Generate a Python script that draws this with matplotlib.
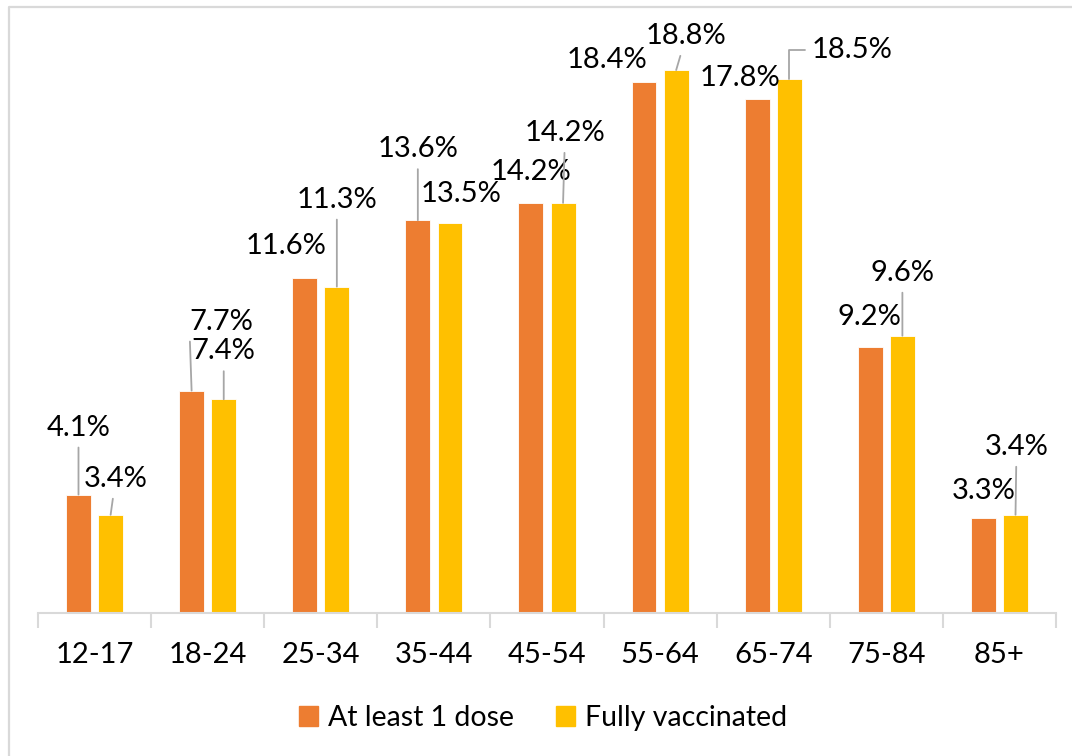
import matplotlib.pyplot as plt
import numpy as np
from matplotlib.lines import Line2D
from matplotlib.patches import Patch

plt.rcParams['font.family'] = ['Lato', 'DejaVu Sans']

age_groups = ['12-17', '18-24', '25-34', '35-44', '45-54', '55-64', '65-74', '75-84', '85+']
at_least_one = [4.1, 7.7, 11.6, 13.6, 14.2, 18.4, 17.8, 9.2, 3.3]
fully_vacc = [3.4, 7.4, 11.3, 13.5, 14.2, 18.8, 18.5, 9.6, 3.4]

orange = '#ED7D31'
yellow = '#FFC000'
grid_grey = '#d9d9d9'
leader_grey = '#a6a6a6'

# label placement (pixels from bar top): dx, dy, leader style
orange_lbl = [(0, 67, 'line'), (30, 69, 'corner'), (-19, 32, None), (0, 71, 'line'),
              (0, 31, None), (-37, 22, None), (-17, 21, None), (-1, 30, None), (0, 27, None)]
yellow_lbl = [(5, 36, 'line'), (0, 48, 'line'), (0, 87, 'line'), (11, 29, None),
              (2, 70, 'line'), (10, 34, 'line'), (63, 29, 'elbow'), (0, 63, 'line'), (1, 68, 'line')]

fig = plt.figure(figsize=(10.72, 7.56), dpi=100)
ax = fig.add_axes([38 / 1072, 1 - 613 / 756, 1018 / 1072, 577.6 / 756])

x = np.arange(len(age_groups))
width = 0.22
off = 0.142
b1 = ax.bar(x - off, at_least_one, width, color=orange, edgecolor='white', linewidth=0.6)
b2 = ax.bar(x + off, fully_vacc, width, color=yellow, edgecolor='white', linewidth=0.6)

ax.set_xlim(-0.5, len(age_groups) - 0.5)
ax.set_ylim(0, 20)
for s in ['top', 'right', 'left']:
    ax.spines[s].set_visible(False)
ax.spines['bottom'].set_color(grid_grey)
ax.spines['bottom'].set_linewidth(1.5)
ax.set_yticks([])
ax.set_xticks(x)
ax.set_xticklabels(age_groups, fontsize=21)
ax.tick_params(axis='x', which='major', length=0, pad=21)
ax.set_xticks(np.arange(-0.5, len(age_groups)), minor=True)
ax.tick_params(axis='x', which='minor', length=11, width=1.5, color=grid_grey)


def label_bars(bars, vals, specs):
    for bar, v, (dx, dy, style) in zip(bars, vals, specs):
        xy = (bar.get_x() + bar.get_width() / 2, v)
        props = None
        if style == 'line':
            props = dict(arrowstyle='-', color=leader_grey, lw=1.3, shrinkA=3, shrinkB=0)
        elif style == 'corner':
            props = dict(arrowstyle='-', color=leader_grey, lw=1.3, shrinkA=3, shrinkB=0,
                         relpos=(0, 0))
        elif style == 'elbow':
            props = dict(arrowstyle='-', color=leader_grey, lw=1.3, shrinkA=3, shrinkB=0,
                         relpos=(0, 0.5), connectionstyle='angle,angleA=0,angleB=90,rad=0')
        ax.annotate(f'{v:.1f}%', xy=xy, xytext=(dx, dy), textcoords='offset pixels',
                    ha='center', va='center', fontsize=21, arrowprops=props)


label_bars(b1, at_least_one, orange_lbl)
label_bars(b2, fully_vacc, yellow_lbl)

handles = [Patch(color=orange, label='At least 1 dose'), Patch(color=yellow, label='Fully vaccinated')]
fig.legend(handles=handles, loc='center', bbox_to_anchor=(543 / 1072, 1 - 718 / 756), ncol=2,
           frameon=False, fontsize=20.5, handlelength=0.65, handleheight=0.65,
           handletextpad=0.35, columnspacing=1.5)

# chart border (left and top edges visible)
fig.add_artist(Line2D([8.5 / 1072, 8.5 / 1072, 1], [0, 1 - 6.5 / 756, 1 - 6.5 / 756],
                      transform=fig.transFigure, color=grid_grey, lw=1.6))

fig.savefig('out.png', dpi=100)
